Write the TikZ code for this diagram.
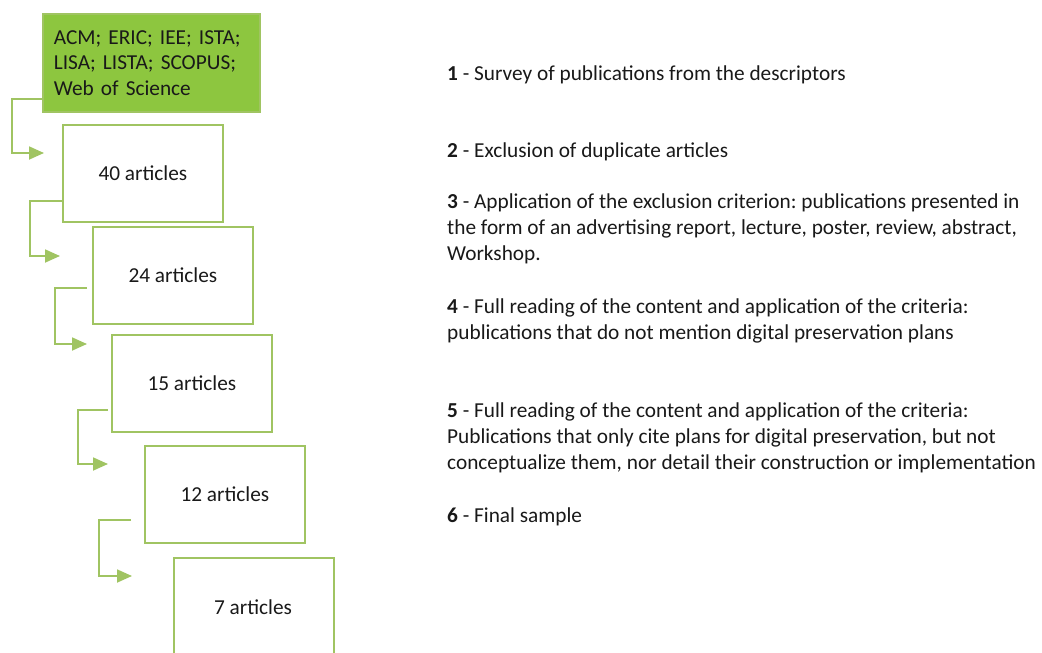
\documentclass[tikz,border=0pt]{standalone}
\usepackage{fontspec}
\setmainfont{Carlito}
\usetikzlibrary{arrows.meta, positioning, calc}
\frenchspacing

\definecolor{leafgreen}{RGB}{141,198,63}
\definecolor{rimgreen}{RGB}{160,196,98}

\begin{document}
\begin{tikzpicture}[
    x=1pt, y=-1pt,
    every node/.style={font=\fontsize{21.3}{25.8}\selectfont, text=black!90},
    box/.style={
        rectangle,
        draw=rimgreen,
        line width=1.8pt,
        anchor=north west,
        minimum width=160pt,
        minimum height=97pt,
        inner sep=0pt
    },
    sourcebox/.style={
        box,
        fill=leafgreen,
        minimum width=217pt,
        minimum height=98pt,
        text width=195pt,
        inner xsep=11pt,
        align=left,
        font=\fontsize{21.3}{25.5}\selectfont
    },
    note/.style={
        anchor=base west,
        align=left,
        inner sep=0pt
    },
    arrow/.style={
        line width=1.8pt,
        draw=rimgreen,
        -{Triangle[length=15pt, width=13pt]}
    }
]
\useasboundingbox (0,0) rectangle (1042,653);

% Source box and article counts
\node[sourcebox] (src) at (42,13) {ACM; ERIC; IEE; ISTA;\\ LISA; LISTA; SCOPUS;\\ Web of Science};
\node[box] (n40) at (62,124) {40 articles};
\node[box] (n24) at (92,226) {24 articles};
\node[box] (n15) at (111,334) {15 articles};
\node[box] (n12) at (144,445) {12 articles};
\node[box, minimum height=104pt] (n7) at (173,557) {};
\node (n7txt) at (253,607) {7 articles};

% Bending arrows
\draw[arrow] ([yshift=14pt]src.south west) -- ++(-30,0) |- ([xshift=-18pt, yshift=-29pt]n40.north west);
\draw[arrow] ([yshift=22pt]n40.south west) -- ++(-32,0) |- ([xshift=-32pt, yshift=-30pt]n24.north west);
\draw[arrow] ([xshift=-5pt, yshift=37pt]n24.south west) -- ++(-32,0) |- ([xshift=-24pt, yshift=-10pt]n15.north west);
\draw[arrow] ([xshift=-3pt, yshift=23pt]n15.south west) -- ++(-30,0) |- ([xshift=-36pt, yshift=-19pt]n12.north west);
\draw[arrow] ([xshift=-13pt, yshift=24pt]n12.south west) -- ++(-32,0) |- ([xshift=-41pt, yshift=-19pt]n7.north west);

% Step descriptions (base = last line)
\node[note] (s1) at (447,80) {\textbf{1} - Survey of publications from the descriptors};
\node[note] (s2) at (447,157) {\textbf{2} - Exclusion of duplicate articles};
\node[note] (s3) at (447,260) {\textbf{3} - Application of the exclusion criterion: publications presented in\\ the form of an advertising report, lecture, poster, review, abstract,\\ Workshop.};
\node[note] (s4) at (447,339) {\textbf{4} - Full reading of the content and application of the criteria:\\ publications that do not mention digital preservation plans};
\node[note] (s5) at (447,469) {\textbf{5} - Full reading of the content and application of the criteria:\\ Publications that only cite plans for digital preservation, but not\\ conceptualize them, nor detail their construction or implementation};
\node[note] (s6) at (447,522) {\textbf{6} - Final sample};

\end{tikzpicture}
\end{document}
